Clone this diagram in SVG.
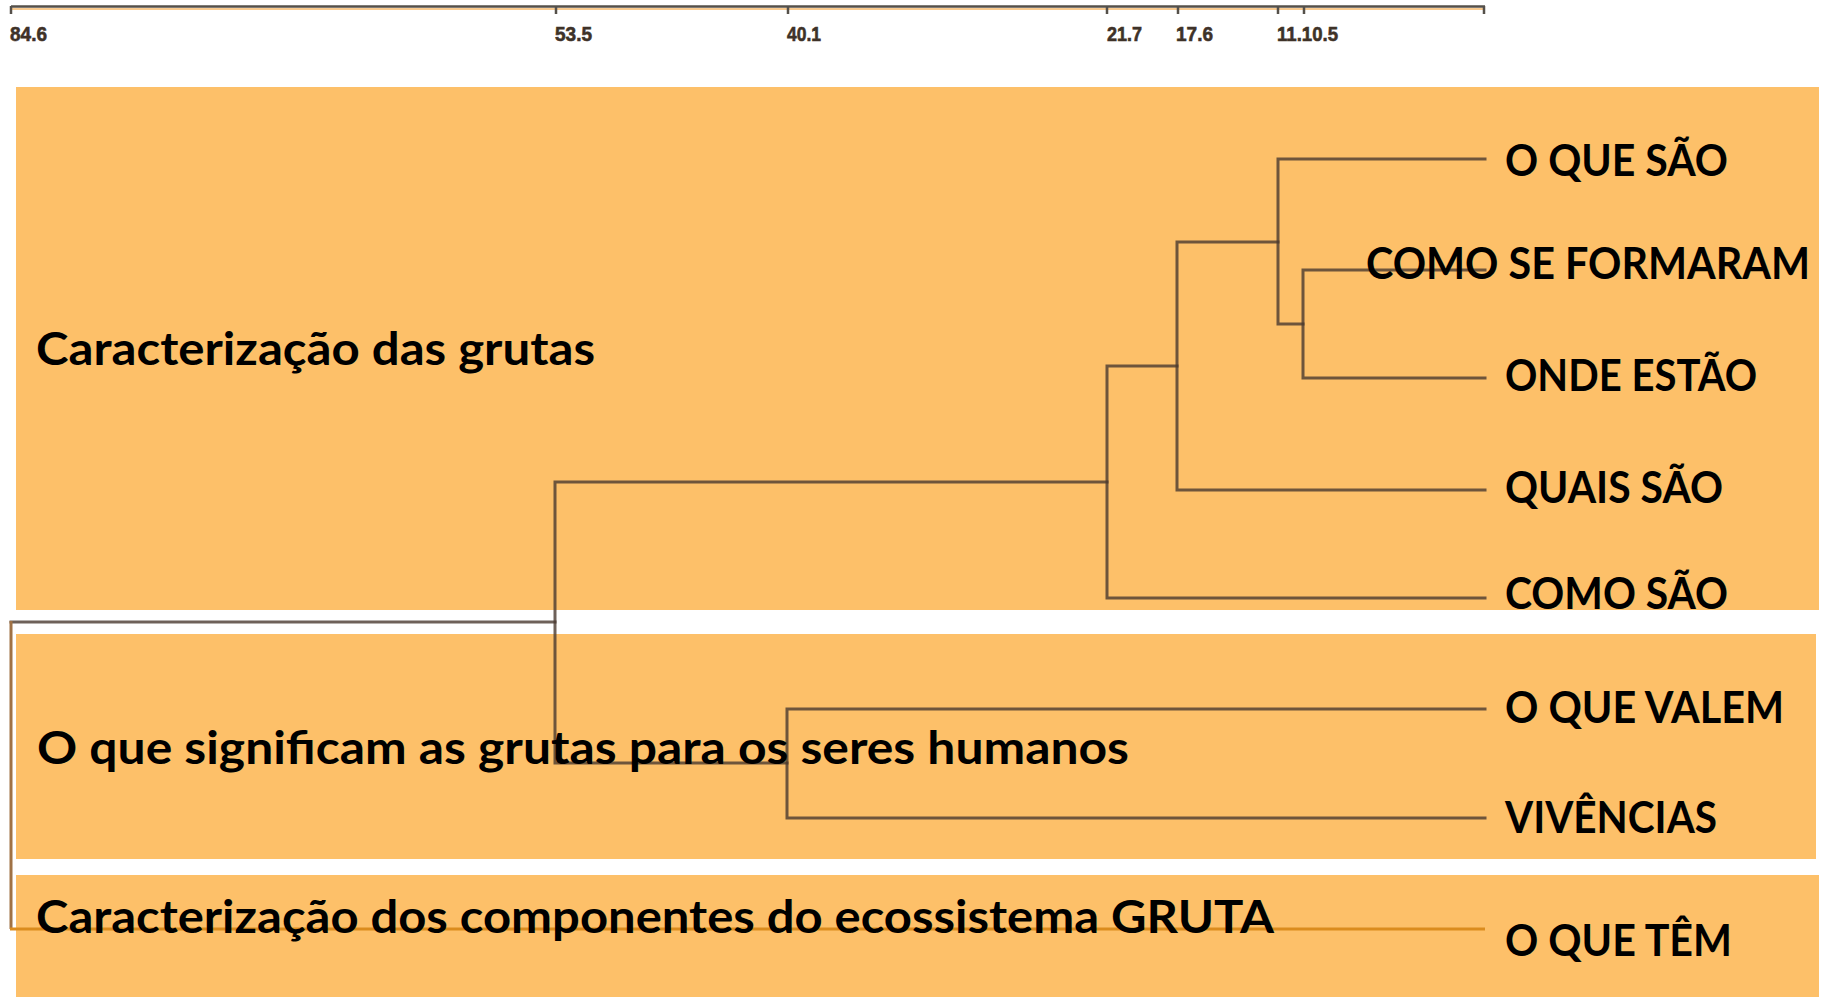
<svg xmlns="http://www.w3.org/2000/svg" width="1822" height="997" viewBox="0 0 1822 997">
<style>
.band{fill:#FDC069}
.big{font-family:Lato,"Liberation Sans",Arial,sans-serif;font-weight:bold;font-size:46px;fill:#000}
.leaf{font-family:Lato,"Liberation Sans",Arial,sans-serif;font-weight:bold;font-size:43px;fill:#000}
.tick{font-family:"Liberation Sans",Arial,sans-serif;font-weight:bold;font-size:21px;fill:#3e3228;stroke:#3e3228;stroke-width:0.6}
.ln{fill:none;stroke:#4a3a30;stroke-opacity:0.8;stroke-width:3;stroke-linecap:square}
.ax{fill:none;stroke:#55504a;stroke-width:2.5}
.axo{fill:none;stroke:#f7b96a;stroke-width:1.5}
</style>
<rect width="1822" height="997" fill="#fff"/>

<g id="axis">
  <line class="axo" x1="11" y1="9" x2="1485" y2="9"/>
  <line class="ax" x1="11" y1="6.5" x2="1485" y2="6.5"/>
  <path class="ax" d="M11 6v8 M556 6v8 M788 6v8 M1107 6v8 M1178 6v8 M1278 6v8 M1304 6v8 M1484 6v8"/>
  <text class="tick" x="10" y="41" textLength="37" lengthAdjust="spacingAndGlyphs">84.6</text>
  <text class="tick" x="555" y="41" textLength="37" lengthAdjust="spacingAndGlyphs">53.5</text>
  <text class="tick" x="787" y="41" textLength="34" lengthAdjust="spacingAndGlyphs">40.1</text>
  <text class="tick" x="1107" y="41" textLength="35" lengthAdjust="spacingAndGlyphs">21.7</text>
  <text class="tick" x="1176" y="41" textLength="37" lengthAdjust="spacingAndGlyphs">17.6</text>
  <text class="tick" x="1277" y="41" textLength="61" lengthAdjust="spacingAndGlyphs">11.10.5</text>
</g>

<g id="band-caracterizacao-grutas">
  <rect class="band" x="16" y="87" width="1803" height="523"/>
</g>
<g id="band-significam">
  <rect class="band" x="16" y="634" width="1800" height="225"/>
</g>
<g id="band-componentes">
  <rect class="band" x="16" y="875" width="1803" height="122"/>
</g>

<g id="connectors">
  <path class="ln" d="M1485 159H1278V324H1303"/>
  <path class="ln" d="M1485 270H1303V378H1485"/>
  <path class="ln" d="M1278 242H1177V490H1485"/>
  <path class="ln" d="M1177 366H1107V598H1485"/>
  <path class="ln" d="M1107 482H555V763H787"/>
  <path class="ln" d="M1485 709H787V818H1485"/>
  <path class="ln" d="M555 622H11"/>
  <path fill="none" stroke="#a07245" stroke-width="3" d="M11 621V929"/>
  <path fill="none" stroke="#db8c1e" stroke-width="3" d="M10 929H1485"/>
</g>

<g id="label-caracterizacao-grutas">
  <text class="big" x="36" y="365" textLength="559" lengthAdjust="spacingAndGlyphs">Caracterização das grutas</text>
</g>
<g id="label-significam">
  <text class="big" x="37" y="764" textLength="1092" lengthAdjust="spacingAndGlyphs">O que significam as grutas para os seres humanos</text>
</g>
<g id="label-componentes">
  <text class="big" x="36" y="933" textLength="1238" lengthAdjust="spacingAndGlyphs">Caracterização dos componentes do ecossistema GRUTA</text>
</g>

<g id="leaf-o-que-sao"><text class="leaf" x="1505" y="176" textLength="223" lengthAdjust="spacingAndGlyphs">O QUE SÃO</text></g>
<g id="leaf-como-se-formaram"><text class="leaf" x="1366" y="279" textLength="444" lengthAdjust="spacingAndGlyphs">COMO SE FORMARAM</text></g>
<g id="leaf-onde-estao"><text class="leaf" x="1505" y="391" textLength="252" lengthAdjust="spacingAndGlyphs">ONDE ESTÃO</text></g>
<g id="leaf-quais-sao"><text class="leaf" x="1505" y="503" textLength="218" lengthAdjust="spacingAndGlyphs">QUAIS SÃO</text></g>
<g id="leaf-como-sao"><text class="leaf" x="1505" y="609" textLength="223" lengthAdjust="spacingAndGlyphs">COMO SÃO</text></g>
<g id="leaf-o-que-valem"><text class="leaf" x="1505" y="723" textLength="279" lengthAdjust="spacingAndGlyphs">O QUE VALEM</text></g>
<g id="leaf-vivencias"><text class="leaf" x="1505" y="833" textLength="212" lengthAdjust="spacingAndGlyphs">VIVÊNCIAS</text></g>
<g id="leaf-o-que-tem"><text class="leaf" x="1505" y="956" textLength="227" lengthAdjust="spacingAndGlyphs">O QUE TÊM</text></g>
</svg>
